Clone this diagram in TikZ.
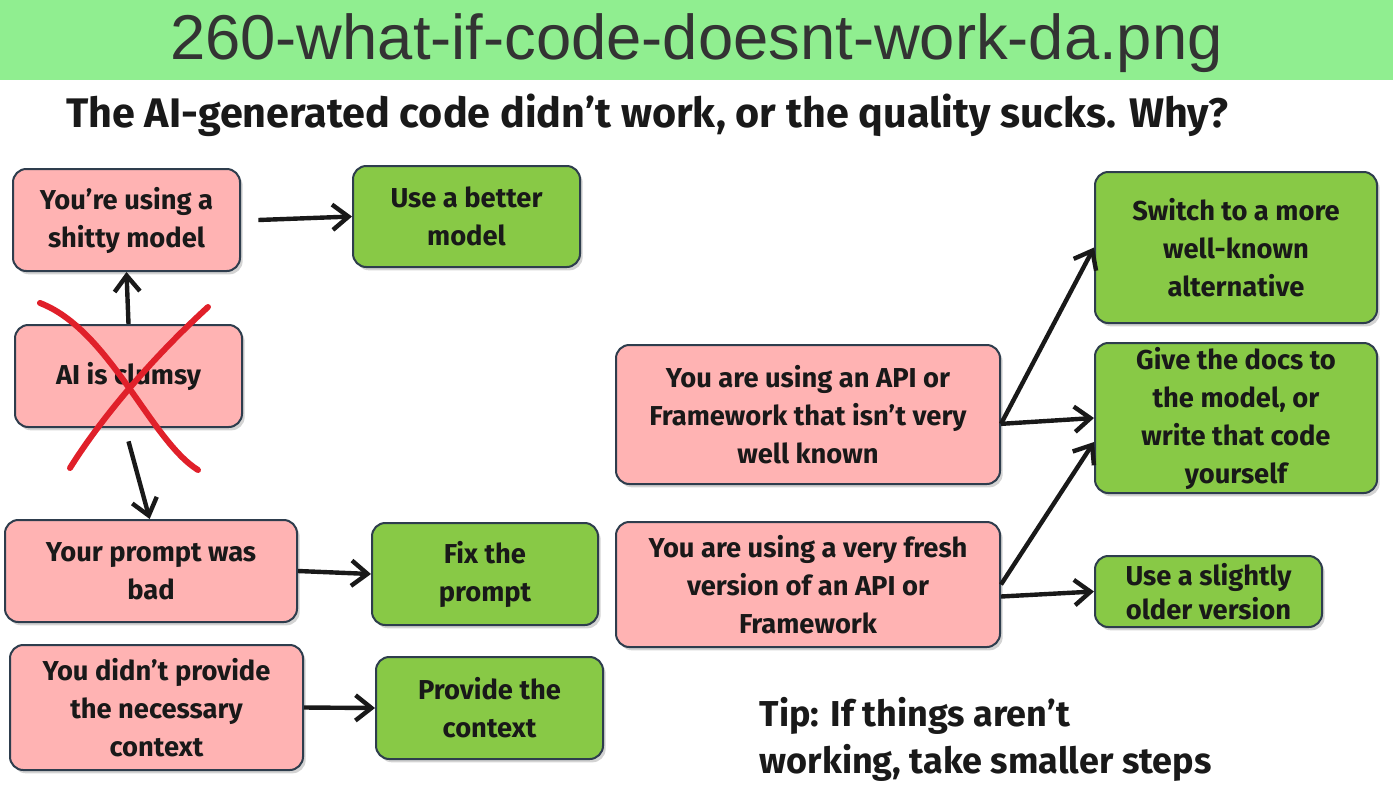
\documentclass[tikz,border=0pt]{standalone}
\usepackage{fontspec}
\setmainfont{Fira Sans}
\newfontfamily\bannerfont{Liberation Sans}
\usetikzlibrary{arrows.meta,shadows}
\definecolor{pinkfill}{HTML}{FFB3B3}
\definecolor{greenfill}{HTML}{88C946}
\definecolor{cardedge}{HTML}{2E3D4D}
\definecolor{bannerbg}{HTML}{90EE90}
\definecolor{bannertext}{HTML}{333333}
\definecolor{crossred}{HTML}{E0202A}
\tikzset{
  card/.style={draw=cardedge, line width=1.5pt, rounded corners=10pt, align=center,
    inner sep=0pt, font=\bfseries\fontsize{20.5}{28.5}\selectfont, text=black!90,
    drop shadow={shadow xshift=2pt, shadow yshift=-2.5pt, opacity=0.35}},
  problem/.style={card, fill=pinkfill},
  remedy/.style={card, fill=greenfill},
  arr/.style={-{Straight Barb[length=12pt,width=19pt]}, line width=3.3pt, black!90},
  redx/.style={draw=crossred, line width=4.5pt, line cap=round}
}
\begin{document}
\begin{tikzpicture}[x=0.75pt,y=-0.75pt]
\useasboundingbox (0,0) rectangle (1393,794);
% banner
\fill[bannerbg] (0,0) rectangle (1393,80);
\node[font=\bannerfont\fontsize{47.5}{52}\selectfont, text=bannertext] (banner) at (696.5,43) {260-what-if-code-doesnt-work-da.png};
\node[font=\bfseries\fontsize{31}{36}\selectfont, text=black!90] (title) at (647,115) {The AI-generated code didn't work, or the quality sucks. Why?};
% left column
\node[problem, minimum width=170.25pt, minimum height=76.5pt] (model) at (126.5,220) {You're using a\\shitty model};
\node[remedy, minimum width=170.25pt, minimum height=75.75pt] (better) at (466.5,216.5) {Use a better\\model};
\node[problem, minimum width=170.25pt, minimum height=76.5pt] (clumsy) at (128.5,376) {AI is clumsy};
\node[problem, minimum width=219pt, minimum height=76.5pt] (prompt) at (151,571) {Your prompt was\\bad};
\node[remedy, minimum width=169.5pt, minimum height=76.5pt] (fixprompt) at (485,574) {Fix the\\prompt};
\node[problem, minimum width=219.75pt, minimum height=93.75pt] (context) at (156.5,707.5) {You didn't provide\\the necessary\\context};
\node[remedy, minimum width=170.25pt, minimum height=76.5pt] (givecontext) at (489.5,708) {Provide the\\context};
% right part
\node[problem, minimum width=288pt, minimum height=104.25pt] (unknown) at (808,414.5) {You are using an API or\\Framework that isn't very\\well known};
\node[problem, minimum width=288pt, minimum height=93.75pt] (fresh) at (808,584.5) {You are using a very fresh\\version of an API or\\Framework};
\node[remedy, minimum width=211.5pt, minimum height=113.25pt] (switch) at (1236,247.5) {Switch to a more\\well-known\\alternative};
\node[remedy, minimum width=211.5pt, minimum height=112.5pt] (docs) at (1236,418) {Give the docs to\\the model, or\\write that code\\yourself};
\node[remedy, minimum width=170.25pt, minimum height=53.25pt, font=\bfseries\fontsize{20.5}{26}\selectfont] (older) at (1208.5,591.5) {Use a slightly\\older version};
\node[anchor=north west, align=left, text=black!90, font=\bfseries\fontsize{27}{35}\selectfont] (tip) at (755,693) {Tip: If things aren't\\working, take smaller steps};
% connectors
\draw[arr] ([xshift=13pt]model.east) -- (better.west);
\draw[arr] (clumsy.north) -- (model.south);
\draw[arr] ([yshift=-10pt]clumsy.south) -- ([xshift=-1pt]prompt.north);
\draw[arr] (prompt.east) -- (fixprompt.west);
\draw[arr] (context.east) -- (givecontext.west);
\draw[arr] ([yshift=-7pt]unknown.east) -- (switch.west);
\draw[arr] ([yshift=-7pt]unknown.east) -- (docs.west);
\draw[arr] (fresh.east) -- ([yshift=-18pt]docs.west);
\draw[arr] ([yshift=-9pt]fresh.east) -- (older.west);
% crossed out
\draw[redx] (40,303) .. controls (110,330) and (150,440) .. (198,470);
\draw[redx] (208,307) .. controls (150,360) and (100,420) .. (70,468);
\end{tikzpicture}
\end{document}
